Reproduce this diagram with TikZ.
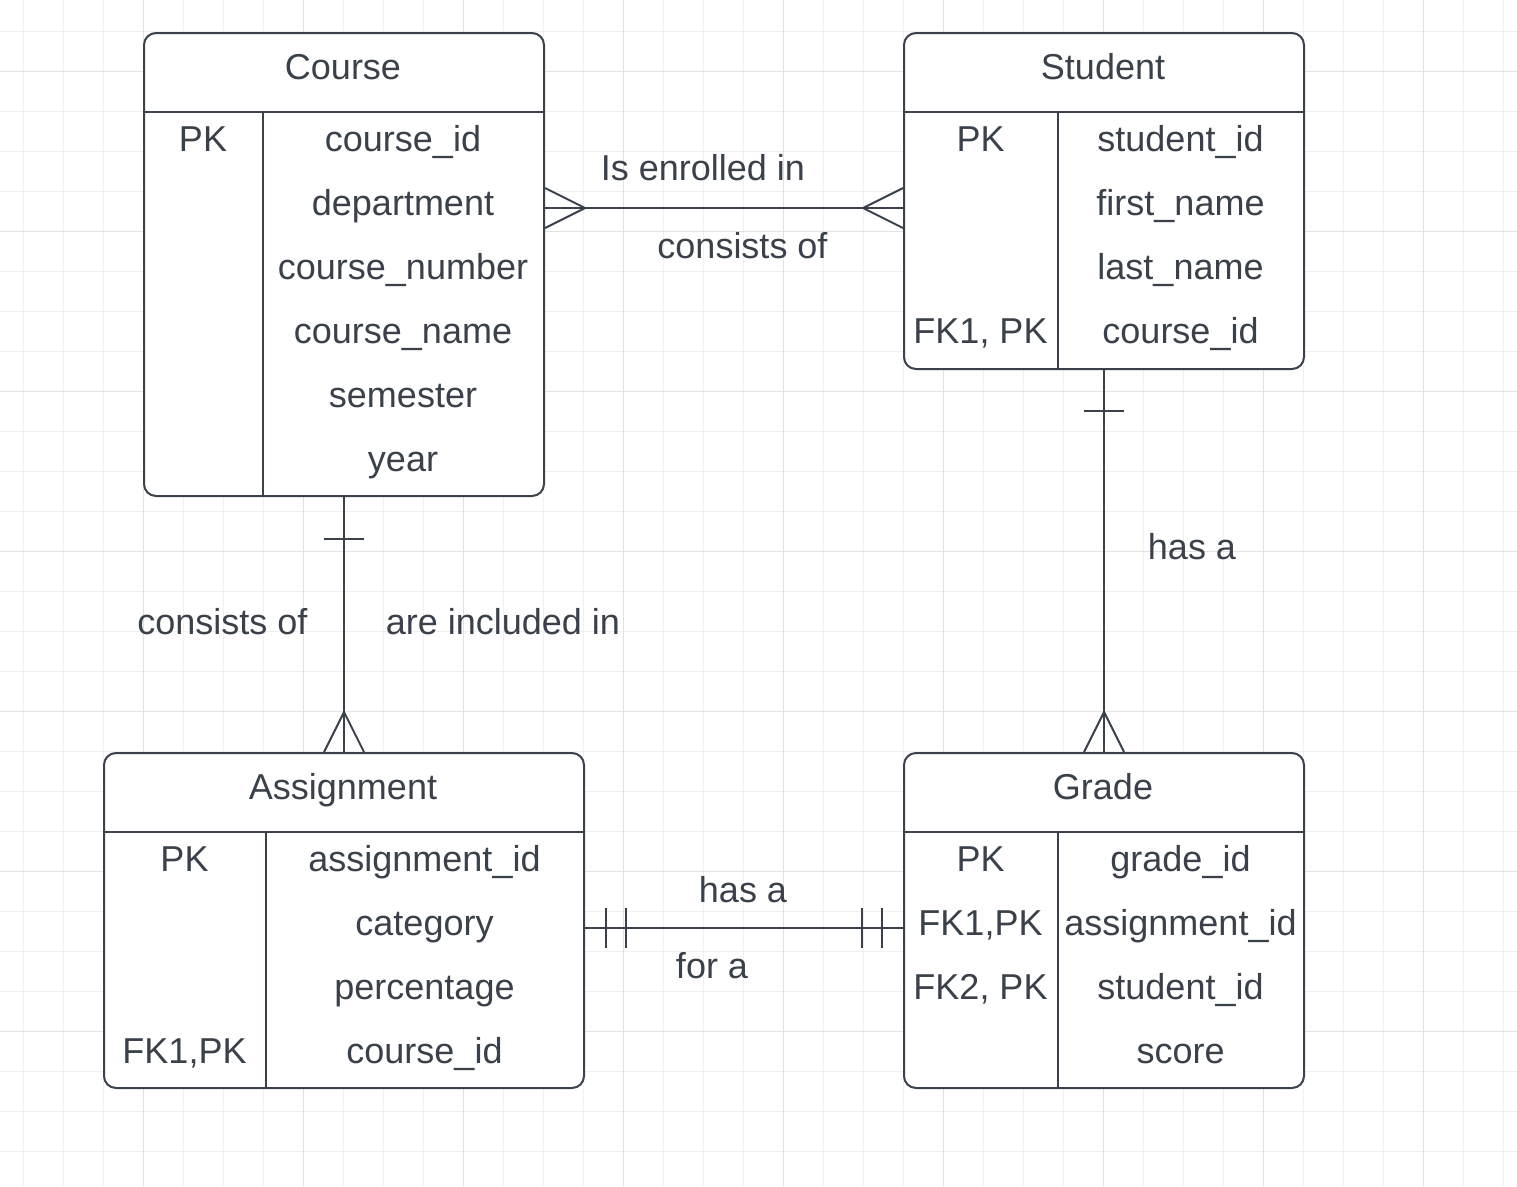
\documentclass[tikz,border=0pt]{standalone}
\usepackage{fontspec}
\setmainfont{Liberation Sans}
\definecolor{ink}{HTML}{3A414A}
\definecolor{gridminor}{HTML}{F0F0F0}
\definecolor{gridmajor}{HTML}{E2E2E2}
\begin{document}
\begin{tikzpicture}[x=1pt,y=-1pt,
  entity/.style={draw=ink,line width=2pt,fill=white,rounded corners=12pt,inner sep=0pt,anchor=north west},
  sep/.style={draw=ink,line width=2pt},
  conn/.style={draw=ink,line width=2pt},
  txt/.style={text=ink,inner sep=0pt,text height=25.8pt,text depth=0pt,font=\fontsize{36}{43}\selectfont},
]
\useasboundingbox (0,0) rectangle (1517,1186);
\fill[white] (0,0) rectangle (1517,1186);
% grid
\foreach \x in {23,63,...,1503} \draw[gridminor,line width=1pt] (\x,0) -- (\x,1186);
\foreach \y in {31,71,...,1171} \draw[gridminor,line width=1pt] (0,\y) -- (1517,\y);
\foreach \x in {143,303,...,1423} \draw[gridmajor,line width=1pt] (\x,0) -- (\x,1186);
\foreach \y in {71,231,...,1031} \draw[gridmajor,line width=1pt] (0,\y) -- (1517,\y);

% entities
\node[entity,minimum width=400pt,minimum height=463pt] (course) at (143,32) {};
\node[entity,minimum width=400pt,minimum height=336pt] (student) at (903,32) {};
\node[entity,minimum width=480pt,minimum height=335pt] (assignment) at (103,752) {};
\node[entity,minimum width=400pt,minimum height=335pt] (grade) at (903,752) {};

% internal separators
\draw[sep] ([yshift=-80pt]course.north west) -- ([yshift=-80pt]course.north east);
\draw[sep] ([xshift=120pt,yshift=-80pt]course.north west) -- ([xshift=120pt]course.south west);
\draw[sep] ([yshift=-80pt]student.north west) -- ([yshift=-80pt]student.north east);
\draw[sep] ([xshift=155pt,yshift=-80pt]student.north west) -- ([xshift=155pt]student.south west);
\draw[sep] ([yshift=-80pt]assignment.north west) -- ([yshift=-80pt]assignment.north east);
\draw[sep] ([xshift=163pt,yshift=-80pt]assignment.north west) -- ([xshift=163pt]assignment.south west);
\draw[sep] ([yshift=-80pt]grade.north west) -- ([yshift=-80pt]grade.north east);
\draw[sep] ([xshift=155pt,yshift=-80pt]grade.north west) -- ([xshift=155pt]grade.south west);

% Course texts
\node[txt] (courseT) at (343,67) {Course};
\node[txt] (courseK1) at (203,139) {PK};
\node[txt] (courseF1) at (403,139) {course\_id};
\node[txt] (courseF2) at (403,203) {department};
\node[txt] (courseF3) at (403,267) {course\_number};
\node[txt] (courseF4) at (403,331) {course\_name};
\node[txt] (courseF5) at (403,395) {semester};
\node[txt] (courseF6) at (403,459) {year};

% Student texts
\node[txt] (studentT) at (1103,67) {Student};
\node[txt] (studentK1) at (980.5,139) {PK};
\node[txt] (studentK4) at (980.5,331) {FK1, PK};
\node[txt] (studentF1) at (1180.5,139) {student\_id};
\node[txt] (studentF2) at (1180.5,203) {first\_name};
\node[txt] (studentF3) at (1180.5,267) {last\_name};
\node[txt] (studentF4) at (1180.5,331) {course\_id};

% Assignment texts
\node[txt] (assignT) at (343,787) {Assignment};
\node[txt] (assignK1) at (184.5,859) {PK};
\node[txt] (assignK4) at (184.5,1051) {FK1,PK};
\node[txt] (assignF1) at (424.5,859) {assignment\_id};
\node[txt] (assignF2) at (424.5,923) {category};
\node[txt] (assignF3) at (424.5,987) {percentage};
\node[txt] (assignF4) at (424.5,1051) {course\_id};

% Grade texts
\node[txt] (gradeT) at (1103,787) {Grade};
\node[txt] (gradeK1) at (980.5,859) {PK};
\node[txt] (gradeK2) at (980.5,923) {FK1,PK};
\node[txt] (gradeK3) at (980.5,987) {FK2, PK};
\node[txt] (gradeF1) at (1180.5,859) {grade\_id};
\node[txt] (gradeF2) at (1180.5,923) {assignment\_id};
\node[txt] (gradeF3) at (1180.5,987) {student\_id};
\node[txt] (gradeF4) at (1180.5,1051) {score};

% connector levels
\coordinate (csY) at (0,208);
\coordinate (agY) at (0,928);

% Course -- Student (many to many)
\draw[conn] (course.east |- csY) -- (student.west |- csY);
\draw[conn] (course.east |- csY) ++(0,-20) -- ++(40,20) -- ++(-40,20);
\draw[conn] (student.west |- csY) ++(0,-20) -- ++(-40,20) -- ++(40,20);
\node[txt] (lblEnrolled) at (703,168) {Is enrolled in};
\node[txt] (lblConsists1) at (742.5,246) {consists of};

% Course -- Assignment (one to many)
\draw[conn] (course.south) -- (assignment.north);
\draw[conn] (course.south) ++(-20,42) -- ++(40,0);
\draw[conn] (assignment.north) ++(-20,0) -- ++(20,-40) -- ++(20,40);
\node[txt] (lblConsists2) at (222.5,622) {consists of};
\node[txt] (lblIncluded) at (503,622) {are included in};

% Student -- Grade (one to many)
\draw[conn] (student.south) -- (grade.north);
\draw[conn] (student.south) ++(-20,41) -- ++(40,0);
\draw[conn] (grade.north) ++(-20,0) -- ++(20,-40) -- ++(20,40);
\node[txt] (lblHas1) at (1192,547) {has a};

% Assignment -- Grade (one and only one)
\draw[conn] (assignment.east |- agY) -- (grade.west |- agY);
\draw[conn] (assignment.east |- agY) ++(21,-20) -- ++(0,40);
\draw[conn] (assignment.east |- agY) ++(41,-20) -- ++(0,40);
\draw[conn] (grade.west |- agY) ++(-21,-20) -- ++(0,40);
\draw[conn] (grade.west |- agY) ++(-41,-20) -- ++(0,40);
\node[txt] (lblHas2) at (743,889.5) {has a};
\node[txt] (lblFor) at (712,965.5) {for a};
\end{tikzpicture}
\end{document}
